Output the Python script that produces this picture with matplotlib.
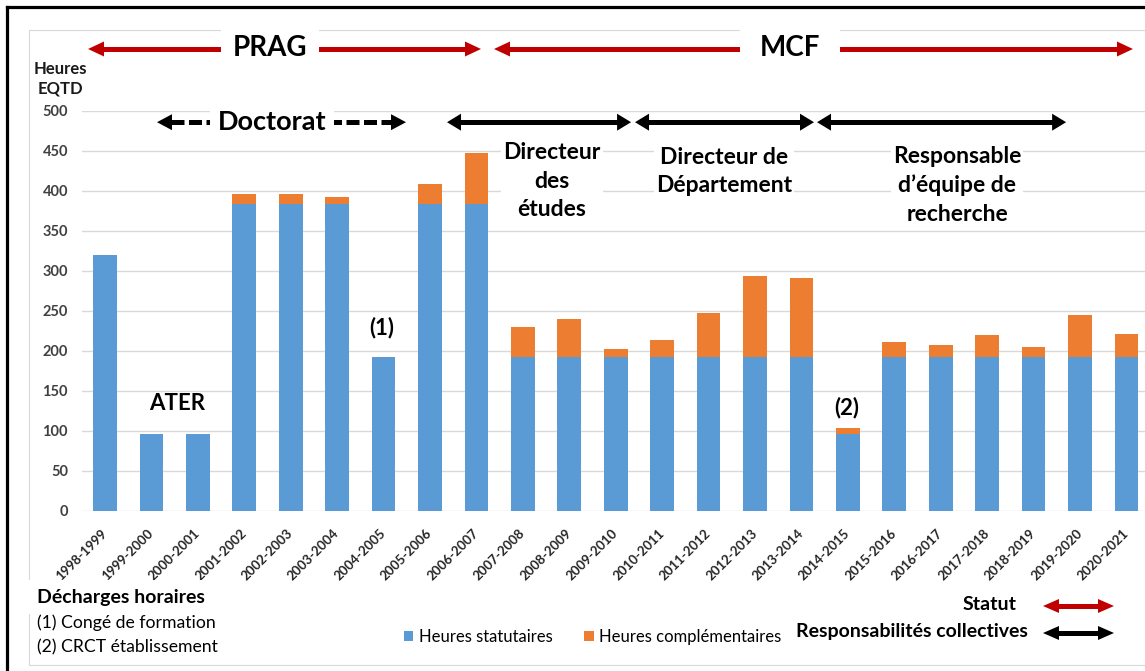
import numpy as np
import matplotlib
matplotlib.use('Agg')
import matplotlib.pyplot as plt
from matplotlib.patches import Polygon, Rectangle
from matplotlib.lines import Line2D

plt.rcParams['font.family'] = ['Lato', 'DejaVu Sans']

# ---------------- data ----------------
annees = ['1998-1999', '1999-2000', '2000-2001', '2001-2002', '2002-2003', '2003-2004',
          '2004-2005', '2005-2006', '2006-2007', '2007-2008', '2008-2009', '2009-2010',
          '2010-2011', '2011-2012', '2012-2013', '2013-2014', '2014-2015', '2015-2016',
          '2016-2017', '2017-2018', '2018-2019', '2019-2020', '2020-2021']
heures_statutaires = [320, 96, 96, 384, 384, 384, 192, 384, 384, 192, 192, 192,
                      192, 192, 192, 192, 96, 192, 192, 192, 192, 192, 192]
heures_complementaires = [0, 0, 0, 12, 12, 9, 0, 25, 64, 38, 48, 11,
                          22, 55, 102, 99, 8, 19, 15, 28, 13, 53, 29]
yticks = list(range(0, 501, 50))

BLUE = '#5B9BD5'
ORANGE = '#ED7D31'
RED = '#C00000'

W, H = 1145, 671
fig = plt.figure(figsize=(W / 100, H / 100), dpi=100)
fig.patch.set_facecolor('white')

ax = fig.add_axes([81.8 / W, 160 / H, 1067.9 / W, 400 / H])
x = np.arange(len(annees))
b1 = ax.bar(x, heures_statutaires, width=0.51, color=BLUE, label='Heures statutaires', zorder=2)
b2 = ax.bar(x, heures_complementaires, bottom=heures_statutaires, width=0.51, color=ORANGE,
            label='Heures complémentaires', zorder=2)
ax.set_xlim(-0.5, len(annees) - 0.5)
ax.set_ylim(0, 500)
ax.set_yticks(yticks)
ax.yaxis.grid(True, color='#D9D9D9', lw=1)
ax.set_axisbelow(True)
for s in ax.spines.values():
    s.set_visible(False)
ax.tick_params(length=0)
ax.tick_params(axis='y', pad=10, labelsize=10.5, labelcolor='#404040')
for t in ax.get_yticklabels():
    t.set_fontweight('bold')
ax.set_xticks(x)
ax.set_xticklabels(annees, rotation=45, ha='right', va='center', rotation_mode='anchor',
                   fontsize=9.5, fontweight='bold', color='#262626')
ax.tick_params(axis='x', pad=14.5)

# ---------------- overlay in pixel units ----------------
ov = fig.add_axes([0, 0, 1, 1], zorder=5)
ov.set_xlim(0, W)
ov.set_ylim(H, 0)
ov.axis('off')


def dx(i):
    return ax.transData.transform((i, 0))[0]


def dy(v):
    return H - ax.transData.transform((0, v))[1]


def harrow(x0, x1, y, color, lw=5, hl=15, hw=16, dashes=None, z=3):
    ln = Line2D([x0 + hl * 0.9, x1 - hl * 0.9], [y, y], color=color, lw=lw * 0.72,
                solid_capstyle='butt', dash_capstyle='butt', zorder=z)
    if dashes:
        ln.set_dashes(dashes)
    ov.add_line(ln)
    ov.add_patch(Polygon([[x0, y], [x0 + hl, y - hw / 2], [x0 + hl, y + hw / 2]], closed=True,
                         facecolor=color, lw=0, zorder=z))
    ov.add_patch(Polygon([[x1, y], [x1 - hl, y - hw / 2], [x1 - hl, y + hw / 2]], closed=True,
                         facecolor=color, lw=0, zorder=z))


# frame and chart area
ov.add_patch(Rectangle((29, 30), W, 635, fill=False, ec='#D9D9D9', lw=0.8, zorder=1))
ov.add_line(Line2D([7, W], [7, 7], color='black', lw=2.3, zorder=10))
ov.add_line(Line2D([7, 7], [7, H], color='black', lw=2.3, zorder=10))

# statut arrows (red)
harrow(dx(-0.366), dx(8.098), dy(577.5), RED, lw=5, hl=16, hw=15)
harrow(dx(8.378), dx(22.14), dy(577.5), RED, lw=5, hl=16, hw=15)
# doctorat dashed
harrow(dx(1.12), dx(6.483), dy(486), 'black', lw=5, hl=15, hw=16, dashes=(2.6, 0.9))
# responsabilites collectives
harrow(dx(7.366), dx(11.33), dy(486), 'black', lw=5, hl=14, hw=17)
harrow(dx(11.415), dx(15.27), dy(486), 'black', lw=5, hl=14, hw=17)
harrow(dx(15.335), dx(20.70), dy(486), 'black', lw=5, hl=14, hw=17)

ov.text(dx(3.554), dy(578.5), 'PRAG', fontsize=20, fontweight='bold', ha='center', va='center',
        bbox=dict(facecolor='white', edgecolor='none', boxstyle='square,pad=0.42'), zorder=6)
ov.text(dx(14.75), dy(578.5), 'MCF', fontsize=20, fontweight='bold', ha='center', va='center',
        bbox=dict(facecolor='white', edgecolor='none', boxstyle='square,pad=0.72'), zorder=6)
ov.text(dx(3.597), dy(486), 'Doctorat', fontsize=19.5, fontweight='bold', ha='center', va='center',
        bbox=dict(facecolor='white', edgecolor='none', boxstyle='square,pad=0.3'), zorder=6)

tb = dict(facecolor='white', edgecolor='none', boxstyle='square,pad=0.1')
ov.text(dx(9.62), dy(412.5), 'Directeur\ndes\nétudes', fontsize=16.5, fontweight='bold',
        ha='center', va='center', linespacing=1.42, bbox=tb, zorder=6)
ov.text(dx(13.33), dy(424), 'Directeur de\nDépartement', fontsize=16.5, fontweight='bold',
        ha='center', va='center', linespacing=1.42, bbox=tb, zorder=6)
ov.text(dx(18.35), dy(407), 'Responsable\nd\u2019équipe de\nrecherche', fontsize=16.5, fontweight='bold',
        ha='center', va='center', linespacing=1.42, bbox=tb, zorder=6)
ov.text(dx(1.55), dy(134), 'ATER', fontsize=16, fontweight='bold', ha='center', va='center', zorder=6)
ov.text(dx(5.96), dy(229), '(1)', fontsize=16, fontweight='bold', ha='center', va='center', zorder=6)
ov.text(dx(15.97), dy(129), '(2)', fontsize=16, fontweight='bold', ha='center', va='center', zorder=6)

# y axis title
ov.text(60, 79, 'Heures\nEQTD', fontsize=12, fontweight='bold', ha='center', va='center',
        linespacing=1.3, color='#1a1a1a')

# bottom notes
ov.text(37, 597, 'Décharges horaires', fontsize=14, fontweight='bold', ha='left', va='center',
        bbox=dict(facecolor='white', edgecolor='none', boxstyle='square,pad=0.45'), zorder=6)
ov.text(37, 623, '(1) Congé de formation', fontsize=12.7, ha='left', va='center', zorder=6)
ov.text(37, 647, '(2) CRCT établissement', fontsize=12.7, ha='left', va='center', zorder=6)

# legend for bars
fig.legend(handles=[b1, b2], loc='center left', bbox_to_anchor=(404 / W, 1 - 637 / H),
           ncol=2, frameon=False, fontsize=12, handlelength=0.55, handleheight=0.55,
           handletextpad=0.35, columnspacing=1.9, borderpad=0, borderaxespad=0)

# legend for arrows
ov.text(1017, 605, 'Statut', fontsize=14, fontweight='bold', ha='right', va='center', zorder=6)
ov.text(1028, 632, 'Responsabilités collectives', fontsize=14, fontweight='bold', ha='right',
        va='center', zorder=6)
harrow(1043, 1114, 606, RED, lw=5, hl=16, hw=14)
harrow(1043, 1114, 633, 'black', lw=5, hl=16, hw=14)

fig.savefig('out.png', dpi=100, facecolor='white')
